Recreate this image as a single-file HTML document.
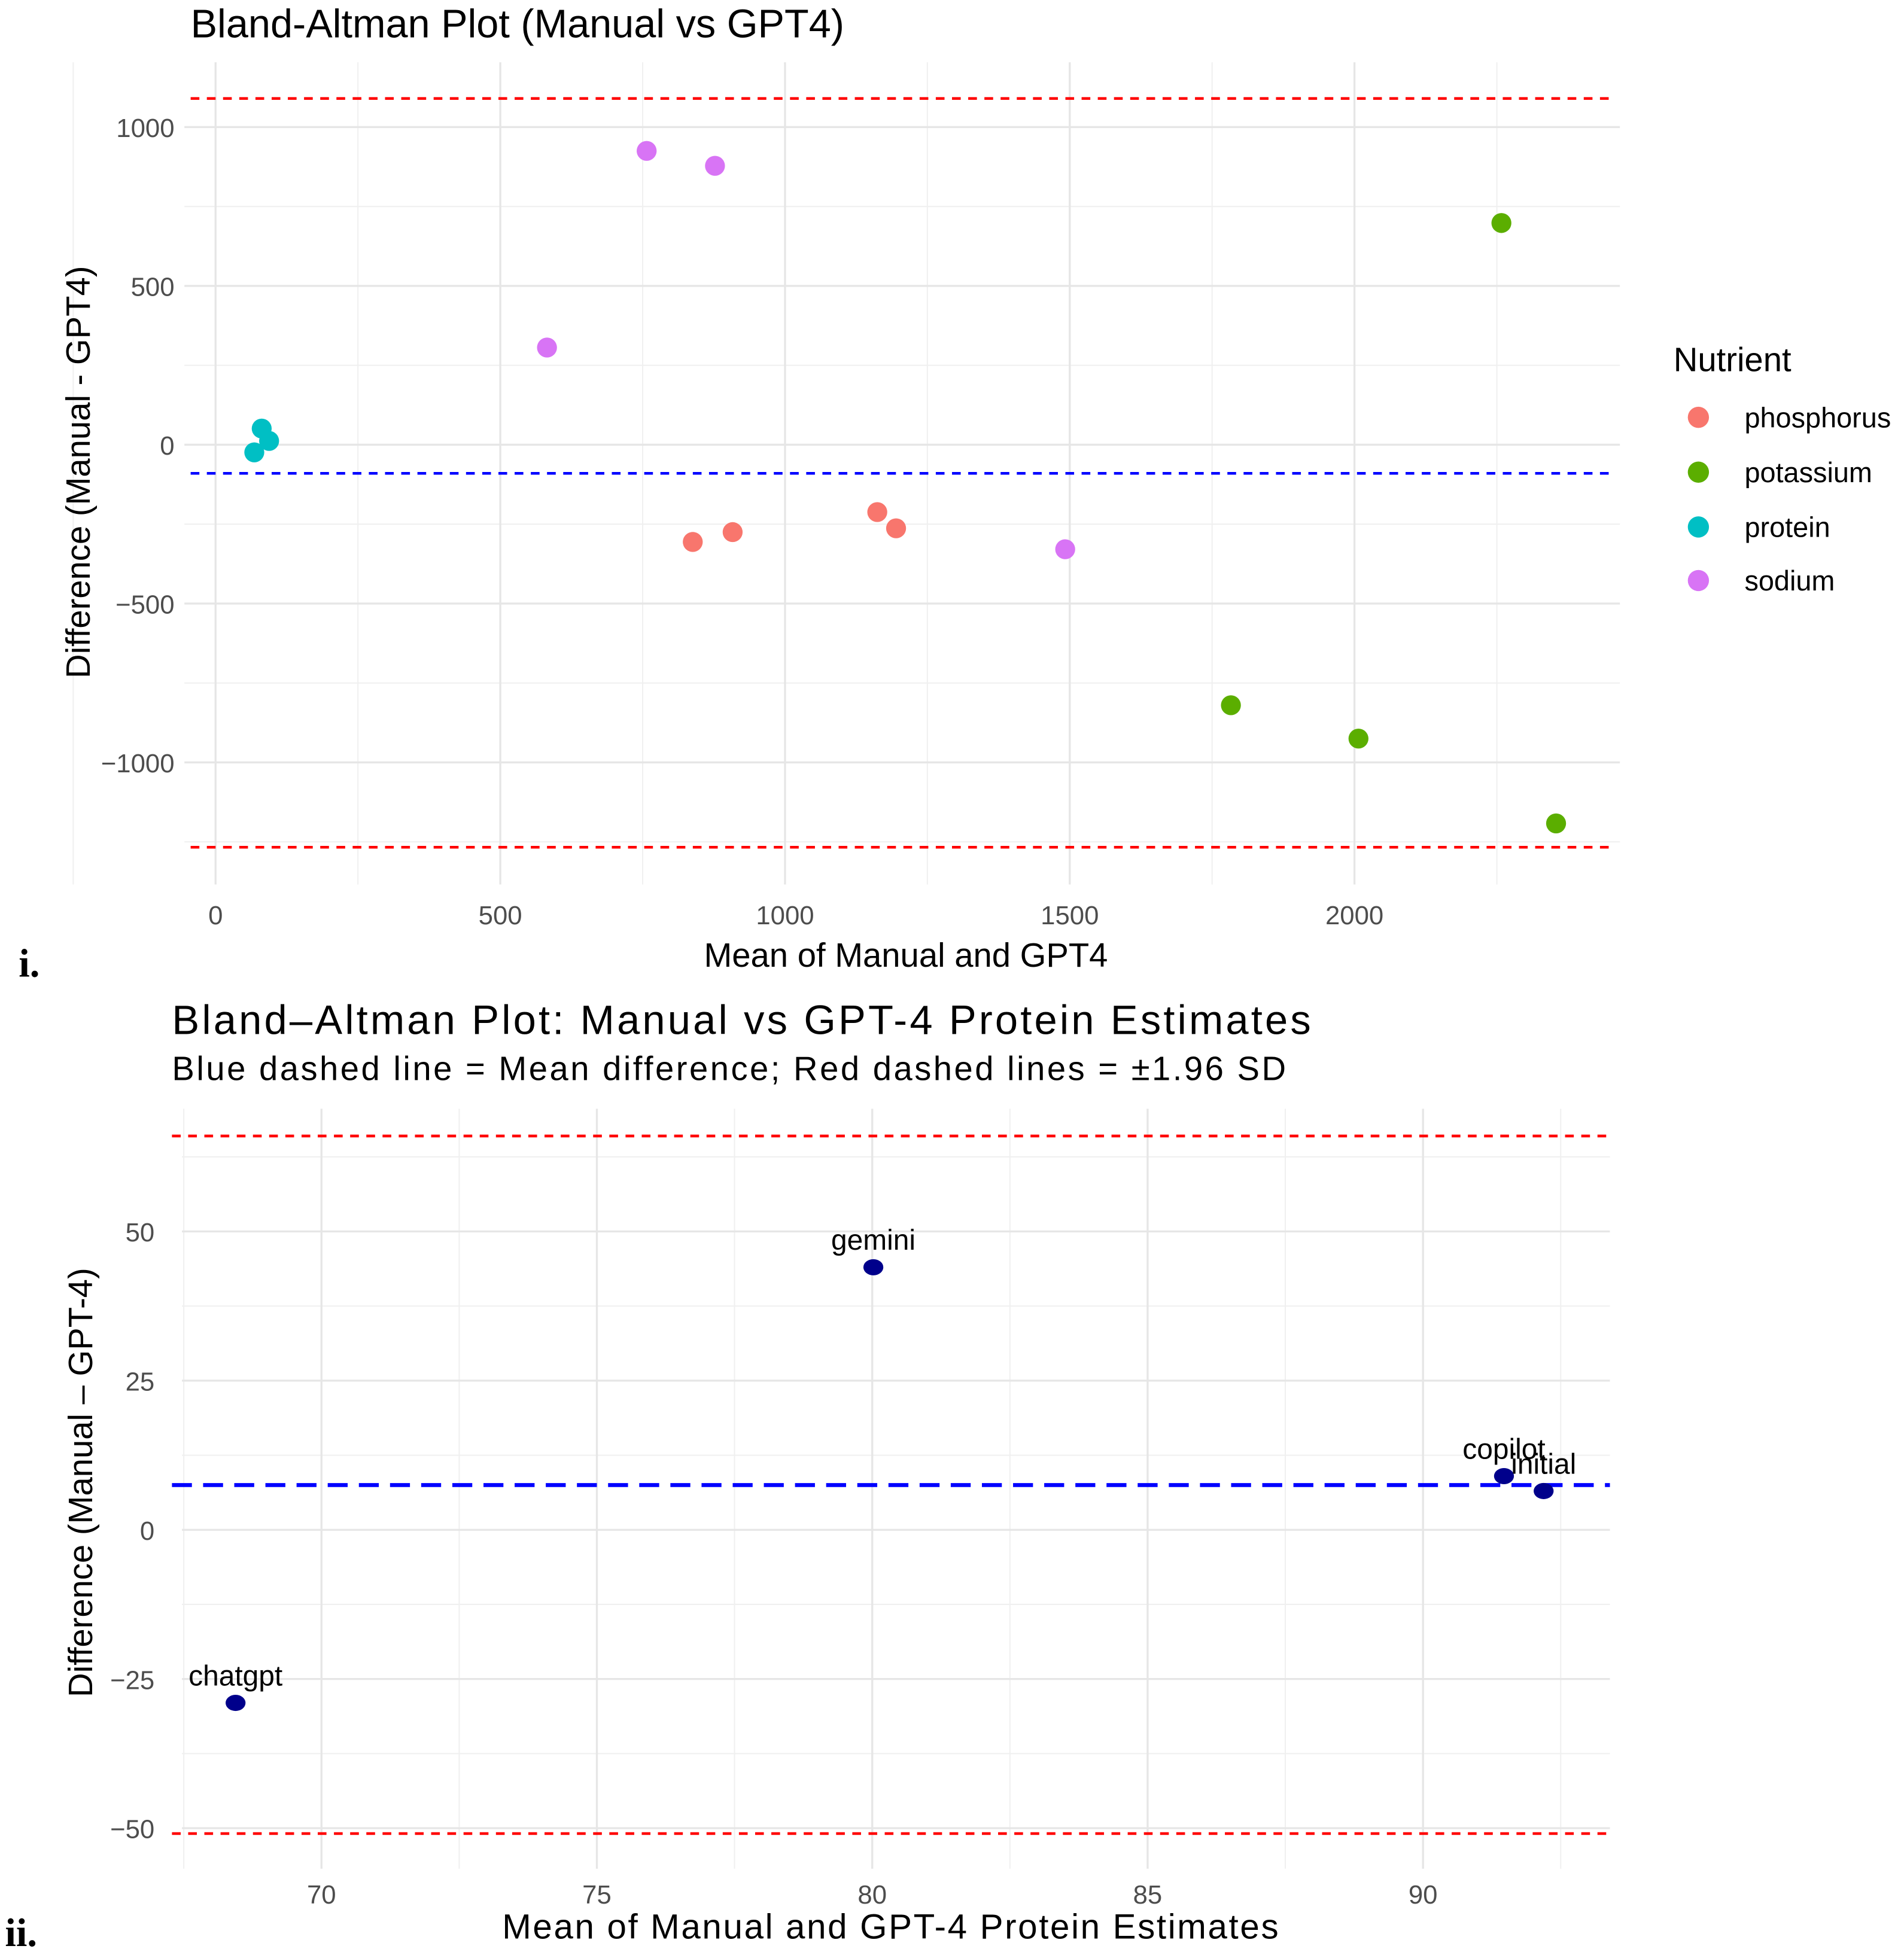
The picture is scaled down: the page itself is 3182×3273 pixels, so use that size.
<!DOCTYPE html>
<html><head><meta charset="utf-8"><style>
html,body{margin:0;padding:0;background:#fff;}
svg{display:block;font-family:"Liberation Sans",sans-serif;}
</style></head><body>
<svg id="root" width="3182" height="3273" viewBox="0 0 1528 1571.7">
<rect width="1528" height="1571.7" fill="#fff"/>
<g id="p1"></g>
<g id="p2"></g>
</svg>
<script>
// ---- Top chart data ----
const topXTicks=[0,500,1000,1500,2000];
const topYTicks=[1000,500,0,-500,-1000];
const nutrients=["phosphorus","potassium","protein","sodium"];
const nutrientColors=["#F8766D","#5BAE00","#00BFC4","#D874F5"];
const ptNutrient=["sodium","sodium","sodium","sodium","phosphorus","phosphorus","phosphorus","phosphorus","potassium","potassium","potassium","potassium","protein","protein","protein"];
const ptMean=[757,877,582,1492,838,908,1162,1195,2258,1783,2007,2354,81,94,68];
const ptDiff=[925,878,306,-329,-306,-275,-212,-263,698,-820,-925,-1192,51,12,-24];
const topMeanDiff=-90;
const topUpper=1090;
const topLower=-1267;
// ---- Bottom chart data ----
const botXTicks=[70,75,80,85,90];
const botYTicks=[50,25,0,-25,-50];
const models=["gemini","chatgpt","copilot","initial"];
const modelMean=[80.02,68.44,91.47,92.19];
const modelDiff=[44.0,-29.0,9.0,6.5];
const botMeanDiff=7.5;
const botUpper=66.0;
const botLower=-50.9;

const NS="http://www.w3.org/2000/svg";
function el(parent,tag,attrs,text){const e=document.createElementNS(NS,tag);for(const k in attrs)e.setAttribute(k,attrs[k]);if(text!==undefined)e.textContent=text;parent.appendChild(e);return e;}

// Top chart
(function(){
const g=document.getElementById('p1');
const X=v=>173+v*0.457, Y=v=>357-v*0.255;
const L=148,R=1300,T=50,B=710;
for(let v=-250;v<=2250;v+=500){const l=el(g,'line',{x1:X(v),x2:X(v),y1:T,y2:B,stroke:'#f0f0f0','stroke-width':1});}
for(let v=-1250;v<=1000;v+=500){const l=el(g,'line',{x1:L,x2:R,y1:Y(v),y2:Y(v),stroke:'#f0f0f0','stroke-width':1});}
topXTicks.forEach(v=>{const l=el(g,'line',{x1:X(v),x2:X(v),y1:T,y2:B,stroke:'#e6e6e6','stroke-width':1.6});
const t=el(g,'text',{x:X(v),y:742,'font-size':21,fill:'#4d4d4d','text-anchor':'middle'},v);});
topYTicks.forEach(v=>{const l=el(g,'line',{x1:L,x2:R,y1:Y(v),y2:Y(v),stroke:'#e6e6e6','stroke-width':1.6});
const t=el(g,'text',{x:140,y:Y(v)+8,'font-size':21,fill:'#4d4d4d','text-anchor':'end'},v<0?'\u2212'+(-v):v);});
[[topUpper,'red','upper-limit-line'],[topLower,'red','lower-limit-line'],[topMeanDiff,'blue','mean-difference-line']].forEach(a=>{const l=el(g,'line',{x1:L+5,x2:R-5,y1:Y(a[0]),y2:Y(a[0]),stroke:a[1],'stroke-width':2.2,'stroke-dasharray':'7 6'});});
ptMean.forEach((m,i)=>{const c=el(g,'circle',{cx:X(m),cy:Y(ptDiff[i]),r:8,fill:nutrientColors[nutrients.indexOf(ptNutrient[i])]});});
let t=el(g,'text',{x:153,y:30,'font-size':32,fill:'#000'},'Bland-Altman Plot (Manual vs GPT4)');
t=el(g,'text',{x:727,y:776,'font-size':27,fill:'#000','text-anchor':'middle'},'Mean of Manual and GPT4');
t=el(g,'text',{x:0,y:0,'font-size':27,fill:'#000','text-anchor':'middle',transform:'translate(72,379) rotate(-90)'},'Difference (Manual - GPT4)');
t=el(g,'text',{x:1343,y:298,'font-size':27,fill:'#000'},'Nutrient');
const ly=[335,379,423,466];
nutrients.forEach((n,i)=>{const c=el(g,'circle',{cx:1363,cy:ly[i],r:8.5,fill:nutrientColors[i]});
const tt=el(g,'text',{x:1400,y:ly[i]+8,'font-size':22.5,fill:'#000'},n);});
t=el(g,'text',{x:15,y:784,'font-size':32,'font-weight':'bold','font-family':'Liberation Serif, serif',fill:'#000'},'i.');
})();

// Bottom chart
(function(){
const g=document.getElementById('p2');
const X=v=>258+(v-70)*44.2, Y=v=>1228-v*4.79;
const L=146,R=1292,T=890,B=1500;
for(let v=67.5;v<=92.5;v+=5){const l=el(g,'line',{x1:X(v),x2:X(v),y1:T,y2:B,stroke:'#f0f0f0','stroke-width':1});}
for(let v=-37.5;v<=62.5;v+=25){const l=el(g,'line',{x1:L,x2:R,y1:Y(v),y2:Y(v),stroke:'#f0f0f0','stroke-width':1});}
botXTicks.forEach(v=>{const l=el(g,'line',{x1:X(v),x2:X(v),y1:T,y2:B,stroke:'#e6e6e6','stroke-width':1.6});
const t=el(g,'text',{x:X(v),y:1528,'font-size':21,fill:'#4d4d4d','text-anchor':'middle'},v);});
botYTicks.forEach(v=>{const l=el(g,'line',{x1:L,x2:R,y1:Y(v),y2:Y(v),stroke:'#e6e6e6','stroke-width':1.6});
const t=el(g,'text',{x:124,y:Y(v)+8,'font-size':21,fill:'#4d4d4d','text-anchor':'end'},v<0?'\u2212'+(-v):v);});
[[botUpper,'red',2.2,'7 6','upper-limit-line'],[botLower,'red',2.2,'7 6','lower-limit-line'],[botMeanDiff,'blue',3.2,'16 9','mean-difference-line']].forEach(a=>{const l=el(g,'line',{x1:138,x2:R,y1:Y(a[0]),y2:Y(a[0]),stroke:a[1],'stroke-width':a[2],'stroke-dasharray':a[3]});});
models.forEach((m,i)=>{const c=el(g,'ellipse',{cx:X(modelMean[i]),cy:Y(modelDiff[i]),rx:8,ry:6.5,fill:'#00008B'});
const t=el(g,'text',{x:X(modelMean[i]),y:Y(modelDiff[i])-14,'font-size':23,fill:'#000','text-anchor':'middle'},m);});
let t=el(g,'text',{x:138,y:830,'font-size':33,fill:'#000',textLength:914,lengthAdjust:'spacing'},'Bland\u2013Altman Plot: Manual vs GPT-4 Protein Estimates');
t=el(g,'text',{x:138,y:867,'font-size':27,fill:'#000',textLength:894,lengthAdjust:'spacing'},'Blue dashed line = Mean difference; Red dashed lines = \u00b11.96 SD');
t=el(g,'text',{x:403,y:1556,'font-size':28,fill:'#000',textLength:623,lengthAdjust:'spacing'},'Mean of Manual and GPT-4 Protein Estimates');
t=el(g,'text',{x:0,y:0,'font-size':27,fill:'#000','text-anchor':'middle',transform:'translate(74,1190) rotate(-90)'},'Difference (Manual \u2013 GPT-4)');
t=el(g,'text',{x:4,y:1562,'font-size':32,'font-weight':'bold','font-family':'Liberation Serif, serif',fill:'#000'},'ii.');
})();
</script>
</body></html>
